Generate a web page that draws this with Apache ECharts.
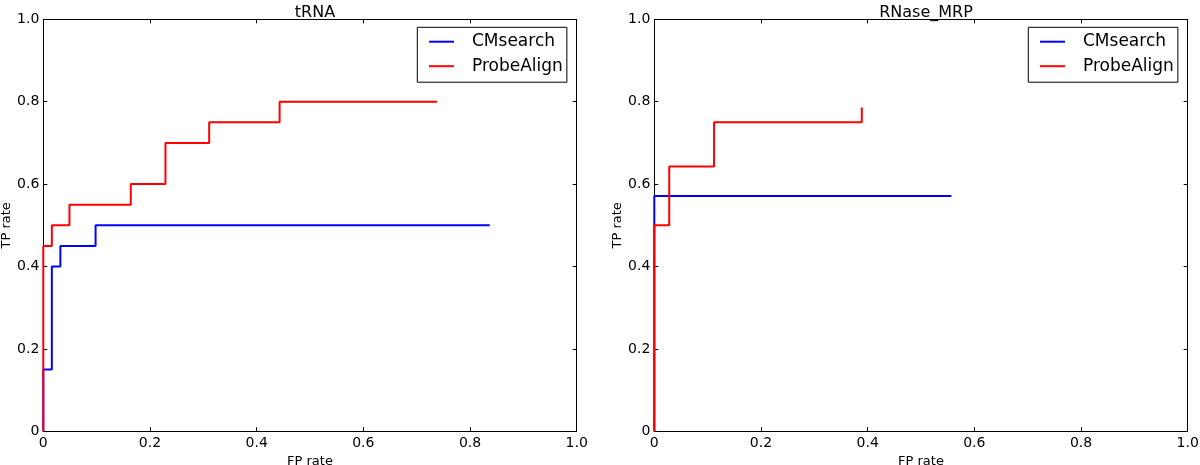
<!DOCTYPE html>
<html>
<head>
<meta charset="utf-8">
<script src="https://cdn.jsdelivr.net/npm/echarts@6/dist/echarts.min.js"></script>
<style>
html,body{margin:0;padding:0;background:#fff;}
#c{width:1200px;height:465px;}
</style>
</head>
<body>
<div id="c"></div>
<script>
// ---- data ----
const titles = ['tRNA', 'RNase_MRP'];
const seriesNames = ['CMsearch', 'ProbeAlign'];
const tickValues = [0, 0.2, 0.4, 0.6, 0.8, 1.0];
const tickLabels = ['0', '0.2', '0.4', '0.6', '0.8', '1.0'];

// tRNA: breakpoints (FP rate, TP rate) of the step curves
const trnaCMsearchFP = [0, 0, 0.016, 0.032, 0.098, 0.837];
const trnaCMsearchTP = [0, 0.15, 0.40, 0.45, 0.50, 0.50];
const trnaProbeFP = [0, 0, 0.016, 0.049, 0.164, 0.229, 0.311, 0.443, 0.738];
const trnaProbeTP = [0, 0.45, 0.50, 0.55, 0.60, 0.70, 0.75, 0.80, 0.80];

// RNase_MRP
const mrpCMsearchFP = [0, 0, 0.557];
const mrpCMsearchTP = [0, 0.571, 0.571];
const mrpProbeFP = [0, 0, 0.028, 0.112, 0.389];
const mrpProbeTP = [0, 0.50, 0.643, 0.75, 0.786];

const colors = {CMsearch: '#0000ff', ProbeAlign: '#ff0000'};
const FONT = 'DejaVu Sans';

function pairs(xs, ys) { return xs.map((x, i) => [x, ys[i]]); }
function fmt(v) { const i = tickValues.indexOf(Math.round(v * 10) / 10); return i >= 0 ? tickLabels[i] : ''; }

const gridW = 533.4, gridH = 412, gridTop = 19.3;
const gridLefts = [43.3, 654.3];

const grids = [], xAxes = [], yAxes = [], titleArr = [], legends = [], series = [];
gridLefts.forEach((gl, g) => {
  grids.push({left: gl, top: gridTop, width: gridW, height: gridH, show: false,
              containLabel: false, outerBoundsMode: 'none'});
  const tickCommon = {show: true, inside: true, length: 4, lineStyle: {color: '#000', width: 1}};
  xAxes.push({
    type: 'value', gridIndex: g, min: 0, max: 1, interval: 0.2, position: 'bottom',
    axisLine: {show: true, onZero: false, lineStyle: {color: '#000', width: 1}},
    axisTick: tickCommon, splitLine: {show: false},
    axisLabel: {show: true, formatter: fmt, color: '#000', fontSize: 14, fontFamily: FONT, margin: 5},
    name: 'FP rate', nameLocation: 'middle', nameGap: 21,
    nameTextStyle: {color: '#000', fontSize: 13, fontFamily: FONT}
  });
  xAxes.push({
    type: 'value', gridIndex: g, min: 0, max: 1, interval: 0.2, position: 'top',
    axisLine: {show: true, onZero: false, lineStyle: {color: '#000', width: 1}},
    axisTick: tickCommon, splitLine: {show: false}, axisLabel: {show: false}
  });
  yAxes.push({
    type: 'value', gridIndex: g, min: 0, max: 1, interval: 0.2, position: 'left',
    axisLine: {show: true, onZero: false, lineStyle: {color: '#000', width: 1}},
    axisTick: tickCommon, splitLine: {show: false},
    axisLabel: {show: true, formatter: fmt, color: '#000', fontSize: 14, fontFamily: FONT, margin: 4},
    name: 'TP rate', nameLocation: 'middle', nameGap: 27, nameRotate: 90,
    nameTextStyle: {color: '#000', fontSize: 13, fontFamily: FONT}
  });
  yAxes.push({
    type: 'value', gridIndex: g, min: 0, max: 1, interval: 0.2, position: 'right',
    axisLine: {show: true, onZero: false, lineStyle: {color: '#000', width: 1}},
    axisTick: tickCommon, splitLine: {show: false}, axisLabel: {show: false}
  });
  titleArr.push({
    text: titles[g], left: gl + gridW / 2, top: 0, textAlign: 'center',
    textStyle: {color: '#000', fontSize: 16, fontWeight: 'normal', fontFamily: FONT}
  });
  legends.push({
    data: seriesNames, orient: 'vertical', left: gl + 374, top: 27.3,
    backgroundColor: '#fff', borderColor: '#000', borderWidth: 1, borderRadius: 0,
    padding: [4.4, 4, 6, 11.7], itemGap: 4.5, itemWidth: 25, itemHeight: 2, icon: 'rect',
    textStyle: {color: '#000', fontSize: 17, fontFamily: FONT, lineHeight: 20, padding: [0, 0, 0, 13]},
    selectedMode: false
  });
});

const curves = [
  {g: 0, name: 'CMsearch', data: pairs(trnaCMsearchFP, trnaCMsearchTP)},
  {g: 0, name: 'ProbeAlign', data: pairs(trnaProbeFP, trnaProbeTP)},
  {g: 1, name: 'CMsearch', data: pairs(mrpCMsearchFP, mrpCMsearchTP)},
  {g: 1, name: 'ProbeAlign', data: pairs(mrpProbeFP, mrpProbeTP)}
];
curves.forEach(c => {
  series.push({
    type: 'line', name: c.name, xAxisIndex: c.g * 2, yAxisIndex: c.g * 2,
    data: c.data, step: 'end', showSymbol: false, symbol: 'none',
    lineStyle: {color: colors[c.name], width: 2}, itemStyle: {color: colors[c.name]},
    animation: false, clip: false, z: c.name === 'ProbeAlign' ? 3 : 2
  });
});

const chart = echarts.init(document.getElementById('c'), null, {renderer: 'canvas'});
chart.setOption({
  animation: false, backgroundColor: '#fff',
  title: titleArr, grid: grids, xAxis: xAxes, yAxis: yAxes, legend: legends, series: series
});
</script>
</body>
</html>
